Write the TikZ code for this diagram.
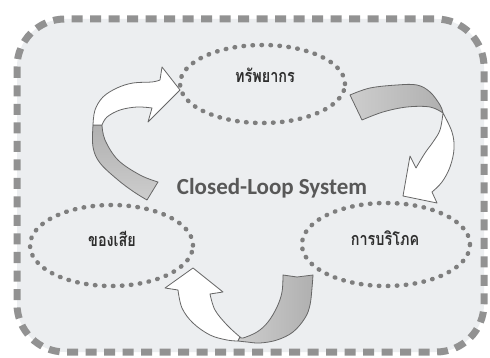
\documentclass[tikz,border=0pt]{standalone}
\usepackage{fontspec}
\usetikzlibrary{shapes.geometric}
\setmainfont{Carlito}
\newfontfamily\thaifont[Script=Thai, FakeStretch=0.8]{Loma}

\definecolor{panelfill}{HTML}{ECEEF0}
\definecolor{framegrey}{HTML}{929292}
\definecolor{dotgrey}{HTML}{7E7E7E}
\definecolor{edgegrey}{HTML}{666666}
\definecolor{titlegrey}{HTML}{585858}
\definecolor{thaitext}{HTML}{2E2E2E}
\definecolor{ribbonA}{HTML}{B0B0B0}
\definecolor{ribbonB}{HTML}{CDCDCD}

\tikzset{
  loopbox/.style={ellipse, draw=dotgrey, line width=4.5pt,
    dash pattern=on 0.5pt off 8.5pt, line cap=round, inner sep=0pt},
  thailabel/.style={font=\thaifont\bfseries\fontsize{18}{18}\selectfont,
    text=thaitext, inner sep=0pt, anchor=base},
  titlelabel/.style={font=\bfseries\fontsize{23}{23}\selectfont,
    text=titlegrey, inner sep=0pt},
  ribbonfront/.style={draw=edgegrey, line width=0.8pt, line join=round, fill=white},
  ribbonback/.style={draw=edgegrey, line width=0.8pt, line join=round},
  frame/.style={fill=panelfill, draw=framegrey, line width=7pt,
    dash pattern=on 11pt off 7.5pt, rounded corners=48pt}
}

\begin{document}
\begin{tikzpicture}[x=1pt, y=-1pt]
\useasboundingbox (0,0) rectangle (490,358);
\fill[white] (0,0) rectangle (490,358);

% dashed panel
\draw[frame] (17,19) rectangle (484,352);

% left ribbon: waste back to resources
\path[ribbonback, top color=ribbonA, bottom color=ribbonB]
  plot[smooth, tension=0.6] coordinates {(93,125) (93,147) (100,163) (118,180) (134,192) (147,200)}
  -- (158,182)
  -- plot[smooth, tension=0.6] coordinates {(158,182) (140,175) (118,160) (105,140) (102,125)}
  -- cycle;
\path[ribbonfront]
  plot[smooth, tension=0.6] coordinates {(93,125) (95,110) (103,97) (117,88) (133,83) (152,82) (160,80)}
  -- (162,67) -- (180,90) -- (148,122) -- (152,108)
  -- plot[smooth, tension=0.6] coordinates {(152,108) (137,107) (120,110) (107,117) (102,125)}
  -- cycle;

% right ribbon: resources to consumption
\path[ribbonback, left color=ribbonB, right color=ribbonA]
  plot[smooth, tension=0.6] coordinates {(350,95) (370,88) (397,85) (417,85) (430,92) (440,105) (443,113)}
  -- plot[smooth, tension=0.6] coordinates {(443,113) (430,107) (407,107) (383,112) (362,120)}
  -- cycle;
\path[ribbonfront]
  plot[smooth, tension=0.6] coordinates {(443,113) (452,132) (454,149) (450,167) (442,182) (432,192)}
  -- (437,203) -- (403,196) -- (410,156) -- (416,168)
  -- plot[smooth, tension=0.6] coordinates {(416,168) (425,153) (433,142) (440,130) (443,113)}
  -- cycle;

% bottom ribbon: consumption to waste
\path[ribbonfront]
  plot[smooth, tension=0.6] coordinates {(238,341) (227,340) (210,335) (193,323) (182,308) (178,290)}
  -- (165,288) -- (193,268) -- (223,292) -- (210,294)
  -- plot[smooth, tension=0.6] coordinates {(210,294) (215,310) (227,325) (240,337)}
  -- cycle;
\path[ribbonback, left color=ribbonB, right color=ribbonA]
  plot[smooth, tension=0.6] coordinates {(238,341) (247,342) (260,343) (277,340) (293,332) (305,318) (310,305) (312,288) (313,275)}
  -- (297,277) -- (283,275)
  -- plot[smooth, tension=0.6] coordinates {(283,275) (282,292) (277,307) (268,322) (257,332) (243,338) (240,337)}
  -- cycle;

% the three stages
\node[loopbox, minimum width=165pt, minimum height=78pt] (res) at (262.5,84) {};
\node[loopbox, minimum width=163pt, minimum height=81pt] (waste) at (111.5,245.5) {};
\node[loopbox, minimum width=168pt, minimum height=83pt] (cons) at (386,244.5) {};

\node[thailabel] (resT) at (265,83) {ทรัพยากร};
\node[thailabel] (wasteT) at (112,247) {ของเสีย};
\node[thailabel] (consT) at (385,245) {การบริโภค};

\node[titlelabel] (title) at (272,188) {Closed-Loop System};
\end{tikzpicture}
\end{document}
